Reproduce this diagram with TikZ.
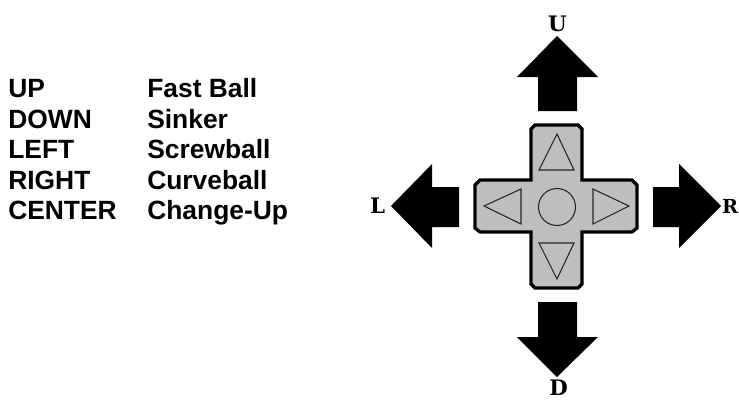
\documentclass[tikz,border=0pt]{standalone}
\usepackage{fontspec}
\setmainfont{Liberation Sans}
\newfontfamily\padfont{DejaVu Serif}
\tikzset{
  listtext/.style={anchor=base west,inner sep=0pt,font=\fontsize{19.8pt}{23pt}\selectfont\bfseries},
  padlabel/.style={anchor=base,inner sep=0pt,font=\fontsize{16pt}{20pt}\padfont\bfseries},
  padarrow/.style={fill=black,draw=none},
  padglyph/.style={draw=black!85,line width=0.8pt},
}
\begin{document}
\begin{tikzpicture}[x=0.75pt,y=0.75pt,yscale=-1,xscale=1]
  \useasboundingbox (0,0) rectangle (739,401);

  % Text Node
  \node [listtext] (up) at (8,97) {UP};
  \node [listtext] (down) at (8,128) {DOWN};
  \node [listtext] (left) at (8,158) {LEFT};
  \node [listtext] (right) at (8,189) {RIGHT};
  \node [listtext] (center) at (8,219) {CENTER};
  \node [listtext] (fast) at (147,97) {Fast Ball};
  \node [listtext] (sinker) at (147,128) {Sinker};
  \node [listtext] (screw) at (147,158) {Screwball};
  \node [listtext] (curve) at (147,189) {Curveball};
  \node [listtext] (change) at (147,219) {Change-Up};

  % Arrows
  \fill [padarrow] (557,36) -- (598,77) -- (577,77) -- (577,111) -- (538,111) -- (538,77) -- (517,77) -- cycle;
  \fill [padarrow] (557,377) -- (598,337) -- (577,337) -- (577,302) -- (538,302) -- (538,337) -- (517,337) -- cycle;
  \fill [padarrow] (721,206) -- (679,164) -- (679,187) -- (653,187) -- (653,227) -- (679,227) -- (679,248) -- cycle;
  \fill [padarrow] (391,206) -- (432,164) -- (432,187) -- (459,187) -- (459,227) -- (432,227) -- (432,248) -- cycle;

  % Pad
  \draw [fill={rgb, 255:red, 190; green, 190; blue, 190 },line width=2.5pt]
    (535,125) -- (578,125) -- (582,129) -- (582,180) -- (632,180) -- (637,185) -- (637,228) -- (632,232)
    -- (582,232) -- (582,284) -- (578,288) -- (535,288) -- (531,284) -- (531,232) -- (480,232) -- (475,228)
    -- (475,185) -- (480,180) -- (531,180) -- (531,129) -- cycle;

  \draw [padglyph] (557,134) -- (574,170) -- (539,170) -- cycle;
  \draw [padglyph] (557,279) -- (574,243) -- (539,243) -- cycle;
  \draw [padglyph] (484,206) -- (521,189) -- (521,224) -- cycle;
  \draw [padglyph] (629,206) -- (593,189) -- (593,224) -- cycle;
  \node [padglyph,circle,draw,minimum size=37*0.75pt,inner sep=0pt] (mid) at (557,207) {};

  % Labels
  \node [padlabel] (ulabel) at (557.5,31) {U};
  \node [padlabel] (dlabel) at (558.5,395) {D};
  \node [padlabel] (llabel) at (377.5,213) {L};
  \node [padlabel,anchor=base east,font=\fontsize{14.5pt}{18pt}\padfont\bfseries] (rlabel) at (738.5,213) {R};
\end{tikzpicture}
\end{document}
